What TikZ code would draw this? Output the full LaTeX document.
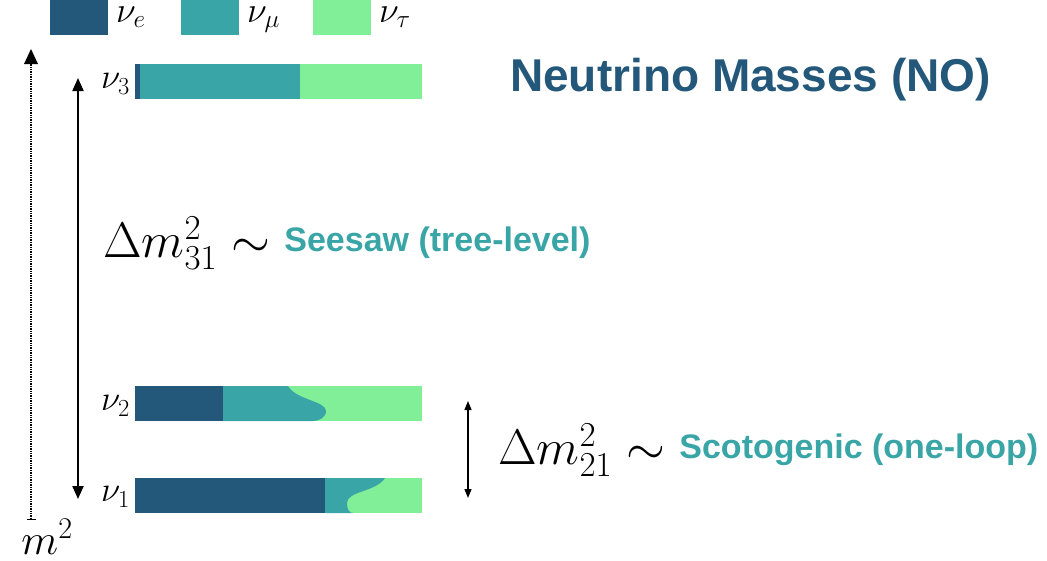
\RequirePackage{fix-cm}
\documentclass[tikz,border=0pt]{standalone}
\usepackage{fontspec}
\setsansfont{Liberation Sans}
\usepackage{amsmath}
\usetikzlibrary{arrows.meta, positioning, calc}
\definecolor{nue}{HTML}{23587A}
\definecolor{numu}{HTML}{3AA5A6}
\definecolor{nutau}{HTML}{81EE98}

\begin{document}
\begin{tikzpicture}[
    x=1pt, y=-1pt,
    legendbox/.style={minimum width=58pt, minimum height=35pt, inner sep=0pt, anchor=north west},
    flavlabel/.style={font=\fontsize{36}{40}\selectfont, inner sep=0pt, anchor=base west},
    masslabel/.style={font=\fontsize{35}{40}\selectfont, inner sep=0pt, anchor=east},
    splitlabel/.style={font=\fontsize{50}{58}\selectfont, inner sep=0pt, anchor=west},
    modellabel/.style={font=\sffamily\bfseries\fontsize{34}{40}\selectfont, text=numu, inner sep=0pt, anchor=west},
    conn/.style={line width=2pt, {Triangle[length=13pt,width=11pt]}-{Triangle[length=13pt,width=11pt]}}
]
    \useasboundingbox (0,0) rectangle (1047,560);

    % legend
    \node[legendbox, fill=nue] (lege) at (50,0) {};
    \node[flavlabel] (labe) at (116,22) {$\nu_e$};
    \node[legendbox, fill=numu] (legmu) at (181,0) {};
    \node[flavlabel] (labmu) at (247,22) {$\nu_\mu$};
    \node[legendbox, fill=nutau] (legtau) at (313,0) {};
    \node[flavlabel] (labtau) at (379,22) {$\nu_\tau$};

    % nu_3
    \fill[nutau] (135,64) rectangle (422,99);
    \fill[numu] (135,64) rectangle (300,99);
    \fill[nue] (135,64) rectangle (140,99);
    \node[masslabel] (m3) at (130,84) {$\nu_3$};

    % nu_2
    \fill[nutau] (135,386) rectangle (422,421);
    \fill[numu] (223,386) -- (288,386) .. controls (296,400) and (326,401) .. (326,411)
        .. controls (326,418) and (318,421) .. (313,421) -- (223,421) -- cycle;
    \fill[nue] (135,386) rectangle (223,421);
    \node[masslabel] (m2) at (130,406) {$\nu_2$};

    % nu_1
    \fill[nutau] (135,478) rectangle (422,513);
    \fill[numu] (325,478) -- (385,478) .. controls (376,492) and (347,491) .. (347,503)
        .. controls (347,509) and (349,513) .. (353,513) -- (325,513) -- cycle;
    \fill[nue] (135,478) rectangle (325,513);
    \node[masslabel] (m1) at (130,497) {$\nu_1$};

    % mass axis
    \coordinate (axbot) at (31,520);
    \coordinate (axtop) at (31,49);
    \draw[line width=1.4pt, densely dotted, {Bar[width=9pt,line width=1.2pt]}-{Triangle[length=15pt,width=14pt,line width=0pt]}] (axbot) -- (axtop);
    \node[inner sep=0pt, font=\fontsize{43}{50}\selectfont] (axlab) at (47,537) {$m^2$};

    % splittings
    \coordinate (big3) at (78,78);
    \coordinate (big1) at (78,499);
    \draw[conn] (big3) -- (big1);
    \coordinate (sm2) at (468,401);
    \coordinate (sm1) at (468,498);
    \draw[line width=1.3pt, {Triangle[length=9pt,width=7pt]}-{Triangle[length=9pt,width=7pt]}] (sm2) -- (sm1);

    \node[splitlabel] (d31) at (103,243) {$\Delta m^2_{31}\sim$};
    \node[modellabel, right=14pt of d31] (seesaw) {Seesaw (tree-level)};
    \node[splitlabel] (d21) at (498,450) {$\Delta m^2_{21}\sim$};
    \node[modellabel, right=14pt of d21] (scoto) {Scotogenic (one-loop)};

    % title
    \node[font=\sffamily\bfseries\fontsize{46}{54}\selectfont, text=nue, inner sep=0pt, anchor=west] (title) at (510,80) {Neutrino Masses (NO)};
\end{tikzpicture}
\end{document}
